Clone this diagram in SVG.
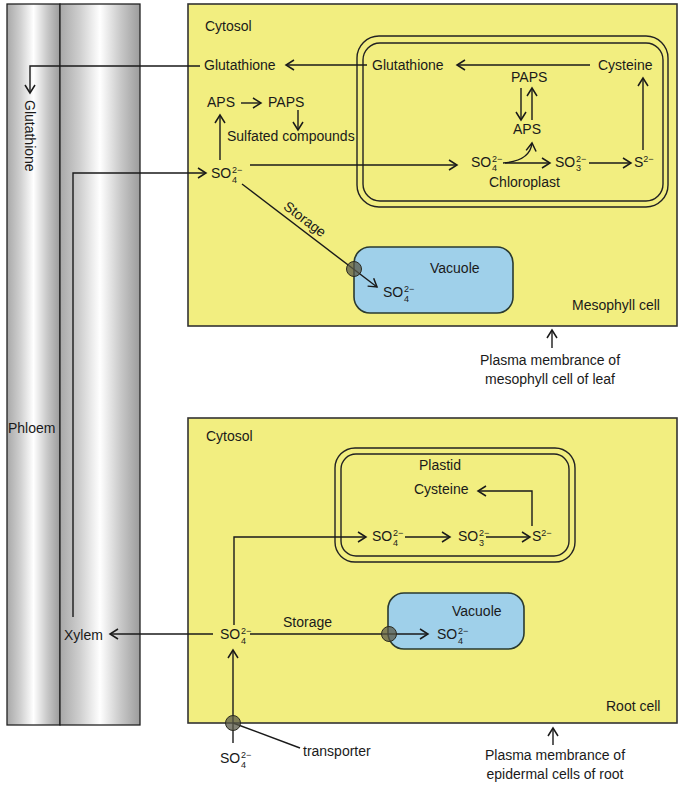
<svg xmlns="http://www.w3.org/2000/svg" width="685" height="786" viewBox="0 0 685 786">
<style>
text{font-family:"Liberation Sans",Arial,sans-serif;font-size:14px;fill:#1a1a1a}
.s{font-size:9px}
.cell{fill:#f2ee80;stroke:#333;stroke-width:1.6}
.vac{fill:#9fd0ea;stroke:#2a3a30;stroke-width:1.6}
.mem{fill:none;stroke:#222;stroke-width:1.4}
.tube{stroke:#222;stroke-width:1.3}
.c path{fill:none;stroke:#1a1a1a;stroke-width:1.4}
.a{marker-end:url(#ah)}
.tr{fill:#5a5a48;fill-opacity:0.75;stroke:#2a2a20;stroke-width:1}
</style>
<defs>
<linearGradient id="tg" x1="0" y1="0" x2="1" y2="0">
<stop offset="0" stop-color="#a8a8a8"/>
<stop offset="0.25" stop-color="#cfcfcf"/>
<stop offset="0.5" stop-color="#ffffff"/>
<stop offset="0.75" stop-color="#cacaca"/>
<stop offset="1" stop-color="#9c9c9c"/>
</linearGradient>
<marker id="ah" markerUnits="userSpaceOnUse" markerWidth="14" markerHeight="14" refX="9" refY="6" orient="auto">
<path d="M1,1 L9,6 L1,11" fill="none" stroke="#1a1a1a" stroke-width="1.5"/>
</marker>
</defs>

<g id="phloem">
<rect class="tube" x="7" y="4" width="53" height="721" fill="url(#tg)"/>
<text x="8" y="433">Phloem</text>
</g>
<g id="xylem">
<rect class="tube" x="60" y="4" width="80" height="721" fill="url(#tg)"/>
<text x="64" y="640">Xylem</text>
</g>

<g id="mesophyll-cell">
<rect class="cell" x="188" y="4" width="489" height="322"/>
<text x="205" y="31">Cytosol</text>
<text x="572" y="310">Mesophyll cell</text>
</g>
<g id="chloroplast">
<rect class="mem" x="357" y="36" width="311" height="171" rx="22"/>
<rect class="mem" x="363" y="43" width="300" height="158" rx="17"/>
<text x="489" y="187">Chloroplast</text>
</g>
<g id="vacuole-leaf">
<rect class="vac" x="354" y="247" width="159" height="66" rx="16"/>
<text x="430" y="273">Vacuole</text>
</g>
<g id="root-cell">
<rect class="cell" x="188" y="418" width="489" height="305"/>
<text x="206" y="441">Cytosol</text>
<text x="606" y="711">Root cell</text>
</g>
<g id="plastid">
<rect class="mem" x="335" y="448" width="240" height="114" rx="20"/>
<rect class="mem" x="341" y="454" width="228" height="102" rx="15"/>
<text x="419" y="470">Plastid</text>
</g>
<g id="vacuole-root">
<rect class="vac" x="388" y="593" width="136" height="56" rx="16"/>
<text x="452" y="616">Vacuole</text>
</g>

<g id="labels">
<text transform="translate(25,100) rotate(90)">Glutathione</text>
<text x="204" y="70">Glutathione</text>
<text x="372" y="70">Glutathione</text>
<text x="598" y="70">Cysteine</text>
<text x="511" y="82">PAPS</text>
<text x="513" y="134">APS</text>
<text x="207" y="107">APS</text>
<text x="268" y="107">PAPS</text>
<text x="227" y="141">Sulfated compounds</text>
<text x="211" y="178">SO<tspan class="s" x="232" y="173">2−</tspan><tspan class="s" x="232" y="183">4</tspan></text>
<text x="471" y="167">SO<tspan class="s" x="492" y="162">2−</tspan><tspan class="s" x="492" y="171">4</tspan></text>
<text x="555" y="167">SO<tspan class="s" x="576" y="162">2−</tspan><tspan class="s" x="576" y="171">3</tspan></text>
<text x="634" y="167">S<tspan class="s" dy="-5">2−</tspan></text>
<text x="383" y="297">SO<tspan class="s" x="404" y="292">2−</tspan><tspan class="s" x="404" y="302">4</tspan></text>
<text transform="translate(302,223) rotate(37)" text-anchor="middle">Storage</text>
<text x="550" y="365" text-anchor="middle">Plasma membrance of</text>
<text x="550" y="384" text-anchor="middle">mesophyll cell of leaf</text>

<text x="414" y="494">Cysteine</text>
<text x="372" y="541">SO<tspan class="s" x="393" y="536">2−</tspan><tspan class="s" x="393" y="546">4</tspan></text>
<text x="458" y="541">SO<tspan class="s" x="479" y="536">2−</tspan><tspan class="s" x="479" y="546">3</tspan></text>
<text x="532" y="541">S<tspan class="s" dy="-5">2−</tspan></text>
<text x="220" y="639">SO<tspan class="s" x="241" y="634">2−</tspan><tspan class="s" x="241" y="644">4</tspan></text>
<text x="283" y="627">Storage</text>
<text x="437" y="639">SO<tspan class="s" x="458" y="634">2−</tspan><tspan class="s" x="458" y="644">4</tspan></text>
<text x="220" y="763">SO<tspan class="s" x="241" y="758">2−</tspan><tspan class="s" x="241" y="768">4</tspan></text>
<text x="303" y="756">transporter</text>
<text x="555" y="760" text-anchor="middle">Plasma membrance of</text>
<text x="555" y="779" text-anchor="middle">epidermal cells of root</text>
</g>

<g id="connectors" class="c">
<path class="a" d="M200,66 H30 V93"/>
<path class="a" d="M367,65 H286"/>
<path class="a" d="M590,65 H457"/>
<path class="a" d="M521,88 V120"/>
<path class="a" d="M532,120 V88"/>
<path class="a" d="M503,163 Q530,161 532,143"/>
<path class="a" d="M505,163 H550"/>
<path class="a" d="M589,163 H631"/>
<path class="a" d="M643,150 V78"/>
<path class="a" d="M73,617 V173 H206"/>
<path class="a" d="M250,165 H457"/>
<path class="a" d="M220,160 V115"/>
<path class="a" d="M241,103 H261"/>
<path class="a" d="M298,110 V130"/>
<path class="a" d="M242,184 L377,287"/>
<path class="a" d="M552,348 V330"/>
<path class="a" d="M213,634 H110"/>
<path class="a" d="M250,634 H428"/>
<path class="a" d="M234,625 V537 H366"/>
<path class="a" d="M405,537 H450"/>
<path class="a" d="M486,537 H530"/>
<path class="a" d="M532,526 V491 H478"/>
<path class="a" d="M233,743 V650"/>
<path d="M233,723 L300,748"/>
<path class="a" d="M553,745 V728"/>
</g>
<g id="transporters">
<circle class="tr" cx="354" cy="269" r="7.5"/>
<circle class="tr" cx="389" cy="634" r="7.5"/>
<circle class="tr" cx="233" cy="723" r="7.5"/>
</g>
</svg>
